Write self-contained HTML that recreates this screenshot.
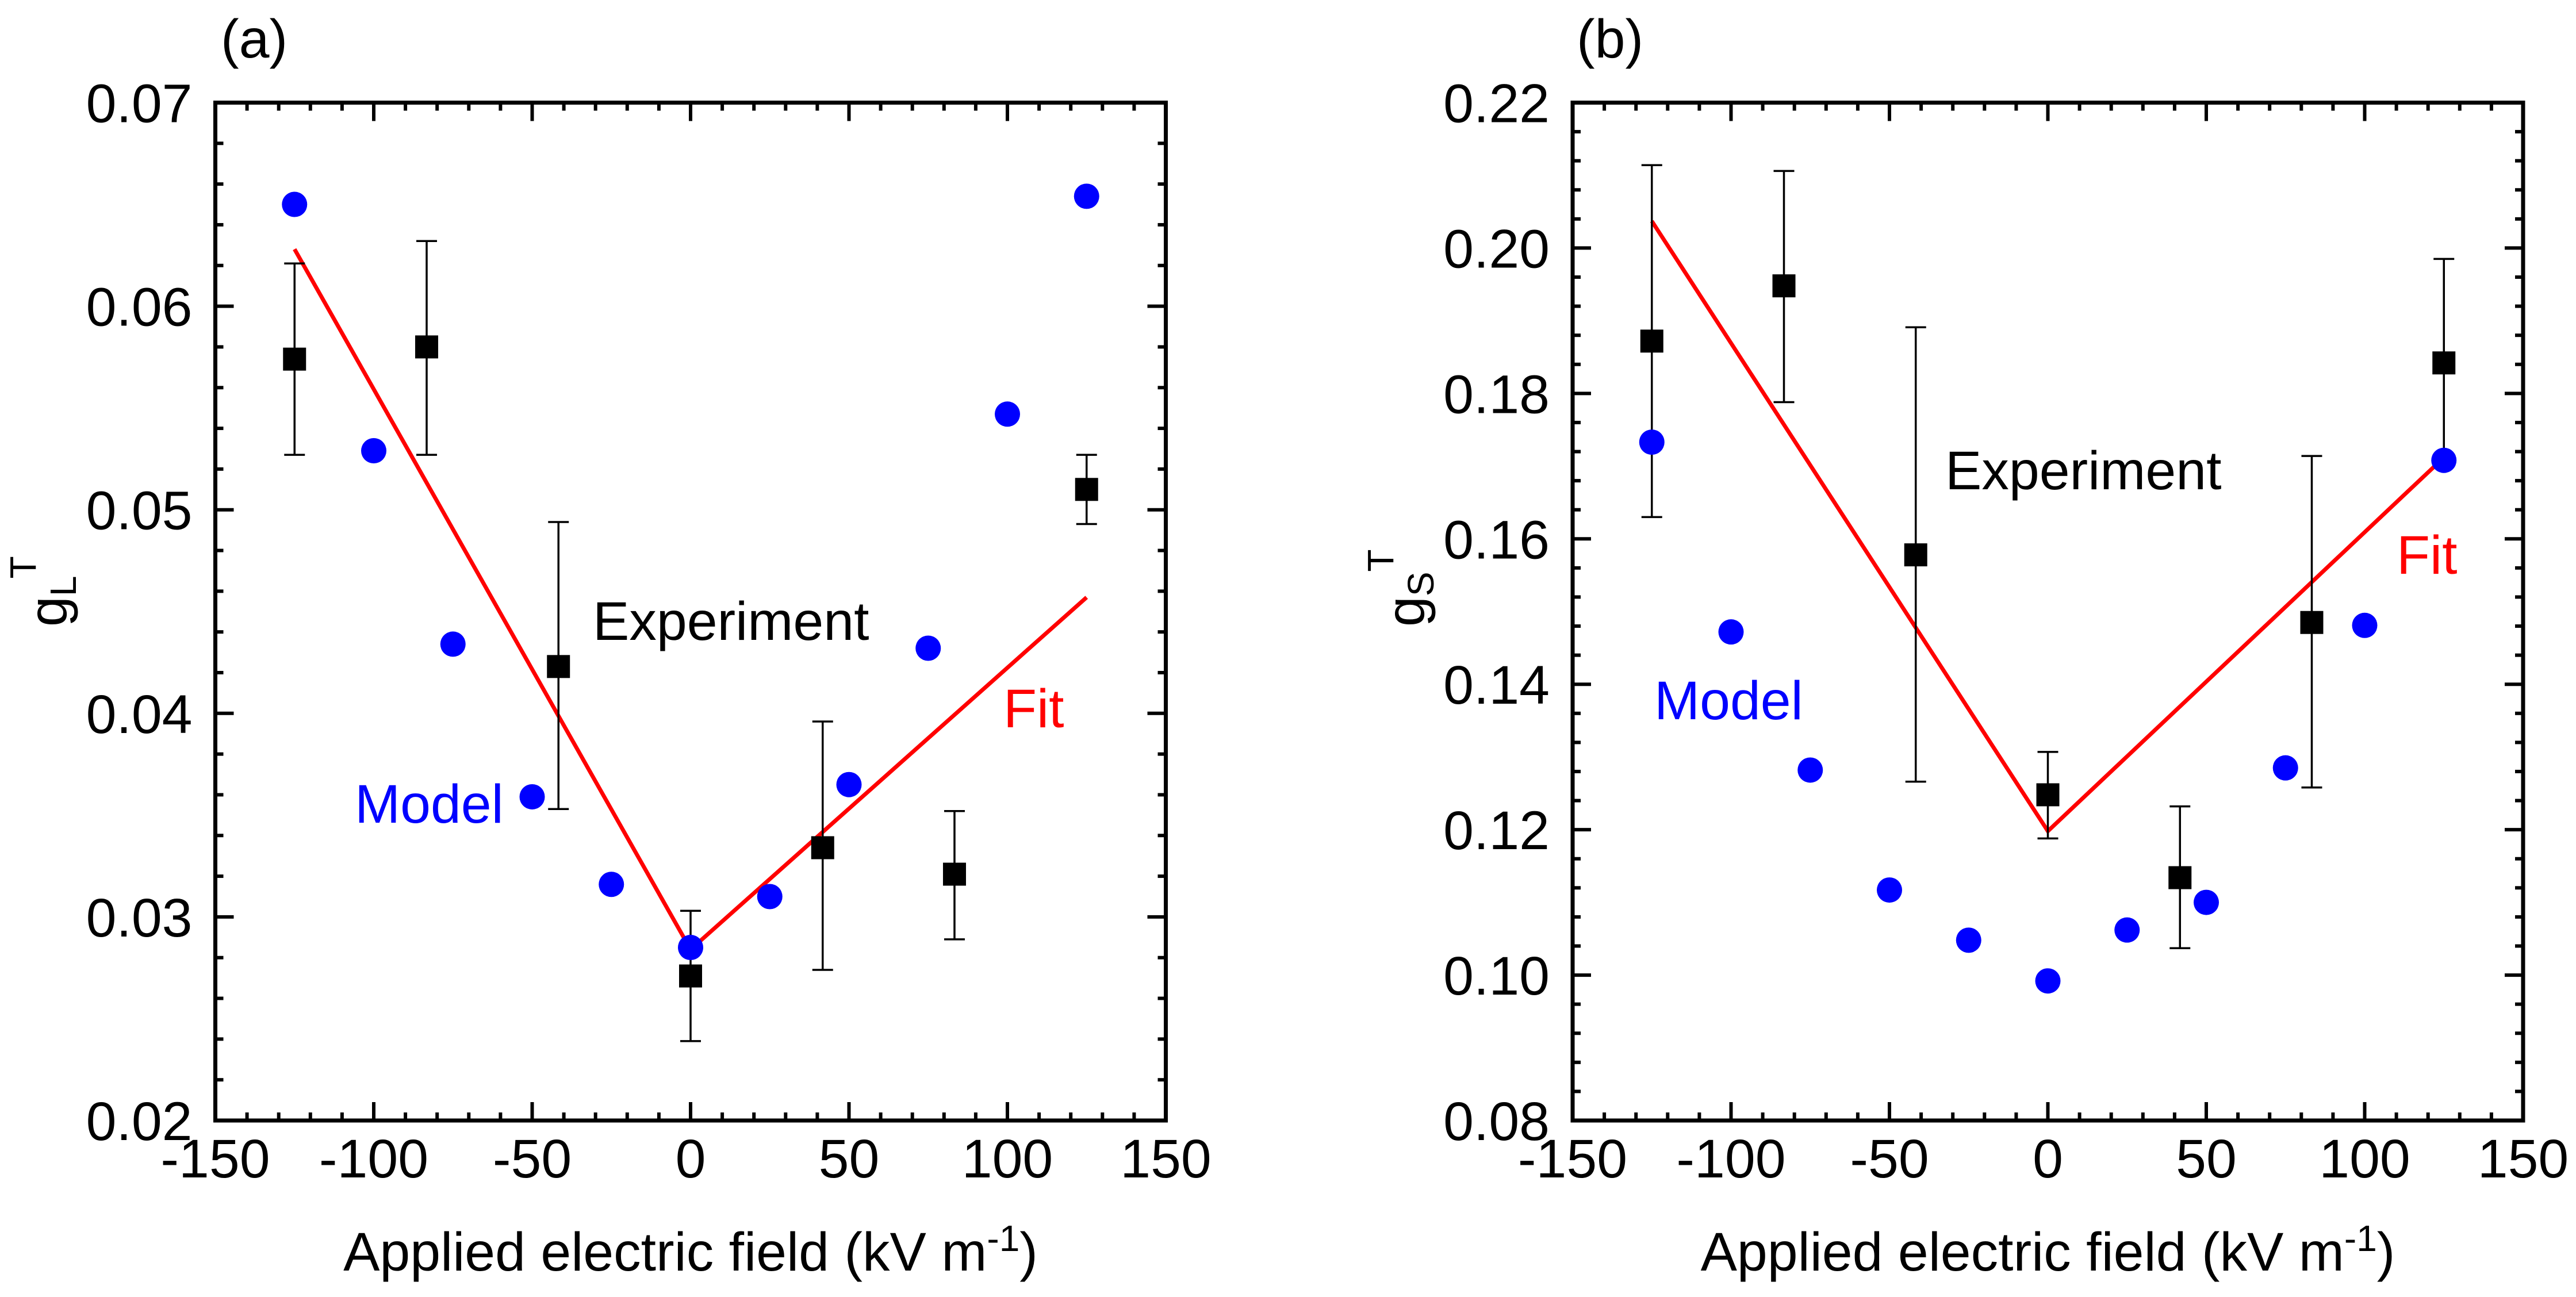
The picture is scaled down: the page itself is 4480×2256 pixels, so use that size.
<!DOCTYPE html>
<html><head><meta charset="utf-8"><style>
html,body{margin:0;padding:0;background:#fff;}
svg{display:block;font-family:"Liberation Sans",Arial,sans-serif;}
</style></head><body>
<svg id="chart" width="4480" height="2256" viewBox="0 0 4480 2256" xmlns="http://www.w3.org/2000/svg"></svg>
<script>
const xTicks = [-150,-100,-50,0,50,100,150];
const modelX = [-125,-100,-75,-50,-25,0,25,50,75,100,125];
const expX = [-125,-83.3,-41.7,0,41.7,83.3,125];
const fitX = [-125,0,125];

const aYTicks = ["0.02","0.03","0.04","0.05","0.06","0.07"];
const aModel = [0.0650,0.0529,0.0434,0.0359,0.0316,0.0285,0.0310,0.0365,0.0432,0.0547,0.0654];
const aExp = [0.0574,0.0580,0.0423,0.0271,0.0334,0.0321,0.0510];
const aErrHi = [0.0621,0.0632,0.0494,0.0303,0.0396,0.0352,0.0527];
const aErrLo = [0.0527,0.0527,0.0353,0.0239,0.0274,0.0289,0.0493];
const aFit = [0.0628,0.0284,0.0457];

const bYTicks = ["0.08","0.10","0.12","0.14","0.16","0.18","0.20","0.22"];
const bModel = [0.1733,0.1472,0.1282,0.1117,0.1048,0.0992,0.1062,0.1100,0.1285,0.1481,0.1708];
const bExp = [0.1872,0.1948,0.1578,0.1248,0.1134,0.1485,0.1842];
const bErrHi = [0.2114,0.2106,0.1891,0.1307,0.1232,0.1714,0.1985];
const bErrLo = [0.1630,0.1788,0.1266,0.1188,0.1037,0.1258,0.1700];
const bFit = [0.2037,0.1198,0.1712];

const NS = "http://www.w3.org/2000/svg";
const svg = document.getElementById('chart');
function mk(tag, attrs, parent){
  const e = document.createElementNS(NS, tag);
  for (const k in attrs) e.setAttribute(k, attrs[k]);
  (parent||svg).appendChild(e);
  return e;
}
const FS = 95;

function panel(cfg){
  const g = mk('g', {});
  
  
  const L=cfg.L, R=cfg.R, T=178.5, B=1949;
  const xs = v => L + (v+150)/300*(R-L);
  const ys = v => B - (v-cfg.ymin)/(cfg.ymax-cfg.ymin)*(B-T);
  for (let v=-150; v<=150; v+=10){
    const major = v%50===0;
    const len = major?32:14;
    const x = xs(v);
    const t1 = mk('line',{x1:x,y1:B,x2:x,y2:B-len,stroke:'#000','stroke-width':6},g);
    
    
    const t2 = mk('line',{x1:x,y1:T,x2:x,y2:T+len,stroke:'#000','stroke-width':6},g);
    
    
  }
  const step = (cfg.ymax-cfg.ymin)/cfg.nMinor;
  for (let i=0;i<=cfg.nMinor;i++){
    const v = cfg.ymin + i*step;
    const major = i%5===0;
    const len = major?32:14;
    const y = ys(v);
    const t1 = mk('line',{x1:L,y1:y,x2:L+len,y2:y,stroke:'#000','stroke-width':6},g);
    
    
    const t2 = mk('line',{x1:R,y1:y,x2:R-len,y2:y,stroke:'#000','stroke-width':6},g);
    
    
  }
  xTicks.forEach(v=>{
    const t = mk('text',{x:xs(v),y:2048,'font-size':FS,'text-anchor':'middle'},g);
    t.textContent = v<0 ? '-'+Math.abs(v) : String(v);
    
    
  });
  cfg.yTicks.forEach(s=>{
    const t = mk('text',{x:L-40,y:ys(parseFloat(s))+34,'font-size':FS,'text-anchor':'end'},g);
    t.textContent = s;
    
    
  });
  const pts = fitX.map((x,i)=>xs(x)+','+ys(cfg.fit[i])).join(' ');
  const fl = mk('polyline',{points:pts,fill:'none',stroke:'#ff0000','stroke-width':7},g);
  
  
  expX.forEach((x,i)=>{
    const cx = xs(x);
    const eb = mk('path',{d:`M${cx},${ys(cfg.hi[i])}V${ys(cfg.lo[i])}M${cx-18},${ys(cfg.hi[i])}h36M${cx-18},${ys(cfg.lo[i])}h36`,stroke:'#000','stroke-width':3.5,fill:'none'},g);
    
    
  });
  modelX.forEach((x,i)=>{
    const c = mk('circle',{cx:xs(x),cy:ys(cfg.model[i]),r:22,fill:'#0000ff'},g);
    
    
  });
  expX.forEach((x,i)=>{
    const s = mk('rect',{x:xs(x)-20,y:ys(cfg.exp[i])-20,width:40,height:40,fill:'#000'},g);
    
    
  });
  const fr = mk('rect',{x:L,y:T,width:R-L,height:B-T,fill:'none',stroke:'#000','stroke-width':7},g);
  
  
  const xt = mk('text',{x:(L+R)/2,y:2210,'font-size':FS,'text-anchor':'middle'},g);
  xt.innerHTML = 'Applied electric field (kV m<tspan dy="-34" font-size="64">-1</tspan><tspan dy="34">)</tspan>';
  
  
  const yt = mk('text',{x:0,y:0,'font-size':FS,transform:`translate(${cfg.ytx},1090) rotate(-90)`},g);
  yt.innerHTML = 'g<tspan dy="16" font-size="64">'+cfg.sub+'</tspan><tspan dy="-70" font-size="64">T</tspan>';
  
  
  const pl = mk('text',{x:cfg.plx,y:100,'font-size':FS},g);
  pl.textContent = cfg.pl;
  
  
  const e = mk('text',{x:cfg.ex[0],y:cfg.ex[1],'font-size':FS},g);
  e.textContent='Experiment';
  
  
  const m = mk('text',{x:cfg.mo[0],y:cfg.mo[1],'font-size':FS,fill:'#0000ff'},g);
  m.textContent='Model';
  
  
  const f = mk('text',{x:cfg.fi[0],y:cfg.fi[1],'font-size':FS,fill:'#ff0000'},g);
  f.textContent='Fit';
  
  
}

panel({name:'panel-a',L:374.5,R:2027.5,ymin:0.02,ymax:0.07,nMinor:25,yTicks:aYTicks,
  model:aModel,exp:aExp,hi:aErrHi,lo:aErrLo,fit:aFit,sub:'L',ytx:116,pl:'(a)',plx:384,
  ex:[1031,1113],mo:[617,1431],fi:[1745,1265]});
panel({name:'panel-b',L:2735,R:4388,ymin:0.08,ymax:0.22,nMinor:35,yTicks:bYTicks,
  model:bModel,exp:bExp,hi:bErrHi,lo:bErrLo,fit:bFit,sub:'S',ytx:2477,pl:'(b)',plx:2742,
  ex:[3383,851],mo:[2877,1251],fi:[4168,998]});
</script>
</body></html>
